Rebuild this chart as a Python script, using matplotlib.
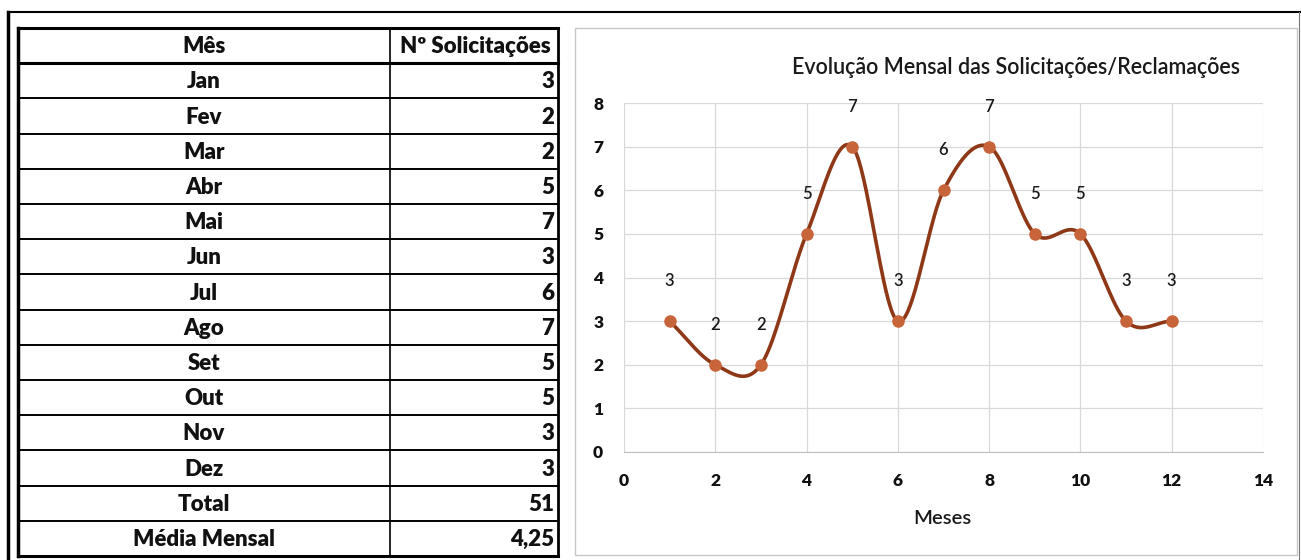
import matplotlib
matplotlib.use("Agg")
import matplotlib.pyplot as plt
import numpy as np
from matplotlib.patches import Rectangle

months = ["Jan", "Fev", "Mar", "Abr", "Mai", "Jun", "Jul", "Ago", "Set", "Out", "Nov", "Dez"]
month_num = [1, 2, 3, 4, 5, 6, 7, 8, 9, 10, 11, 12]
counts = [3, 2, 2, 5, 7, 3, 6, 7, 5, 5, 3, 3]
total_label = "Total"
total_value = "51"
mean_label = "Média Mensal"
mean_value = "4,25"
col_headers = ["Mês", "Nº Solicitações"]
title = "Evolução Mensal das Solicitações/Reclamações"
xlabel = "Meses"

FONT = ["Lato", "DejaVu Sans"]
plt.rcParams["font.family"] = FONT

W, H = 1301, 560
fig = plt.figure(figsize=(W / 100, H / 100), dpi=100)
fig.patch.set_facecolor("white")

# ---- background / table axes in pixel coordinates
bg = fig.add_axes([0, 0, 1, 1])
bg.set_xlim(0, W)
bg.set_ylim(H, 0)
bg.axis("off")

# outer frame
bg.plot([8, 1300], [12, 12], color="black", lw=1.5)
bg.plot([8, 8], [12, 560], color="black", lw=2.5)
bg.plot([1299, 1299], [12, 560], color="#777777", lw=0.8)

# table
tx0, tx1, tmid = 18, 558, 390
ty0, ty1 = 28, 556
rows = [col_headers] + [[m, str(c)] for m, c in zip(months, counts)] + \
       [[total_label, total_value], [mean_label, mean_value]]
nrow = len(rows)
rh = (ty1 - ty0) / nrow
for i in range(nrow + 1):
    y = ty0 + i * rh
    lw = 2.2 if i in (0, 1, nrow) else 1.4
    bg.plot([tx0, tx1], [y, y], color="black", lw=lw, solid_capstyle="projecting")
bg.plot([tx0, tx0], [ty0, ty1], color="black", lw=2.5)
bg.plot([tx1, tx1], [ty0, ty1], color="black", lw=2.0)
bg.plot([tmid, tmid], [ty0, ty1], color="black", lw=1.2)
for i, (a, b) in enumerate(rows):
    yc = ty0 + (i + 0.5) * rh + 1
    bg.text((tx0 + tmid) / 2, yc, a, ha="center", va="center", fontsize=16,
            fontweight="heavy", color="#111111")
    if i == 0:
        bg.text((tmid + tx1) / 2 + 1, yc, b, ha="center", va="center", fontsize=16,
                fontweight="heavy", color="#111111")
    else:
        bg.text(tx1 - 4, yc, b, ha="right", va="center", fontsize=16,
                fontweight="heavy", color="#111111")

# chart box
bg.add_patch(Rectangle((575, 28), 722, 527, fill=False, edgecolor="#c8c8c8", lw=1.0))
bg.text(1016, 68, title, ha="center", va="center", fontsize=15.5,
        fontweight="semibold", color="#1a1a1a")
bg.text(942, 519, xlabel, ha="center", va="center", fontsize=14.5,
        fontweight="semibold", color="#1a1a1a")

# ---- line chart
x0p, x1p = 624, 1263
y0p, y1p = 452, 103
ax = fig.add_axes([x0p / W, 1 - y0p / H, (x1p - x0p) / W, (y0p - y1p) / H])
ax.set_xlim(0, 14)
ax.set_ylim(0, 8)
ax.set_xticks(range(0, 15, 2))
ax.set_yticks(range(0, 9))
ax.grid(True, color="#d9d9d9", lw=0.9)
ax.set_axisbelow(True)
for s in ["top", "right", "left"]:
    ax.spines[s].set_visible(False)
ax.spines["bottom"].set_color("#bfbfbf")
ax.tick_params(length=0, labelsize=12.5)
ax.tick_params(axis="x", pad=15)
ax.tick_params(axis="y", pad=15)
for lab in ax.get_xticklabels() + ax.get_yticklabels():
    lab.set_fontweight("heavy")
    lab.set_color("#111111")

# Excel-style smoothed line (Catmull-Rom spline through the data points)
px = np.array(month_num, dtype=float)
py = np.array(counts, dtype=float)
n = len(px)
xs, ys = [], []
for i in range(n - 1):
    p0 = i - 1 if i > 0 else i
    p3 = i + 2 if i + 2 < n else i + 1
    mx0 = (px[i + 1] - px[p0]) / 2 if i > 0 else (px[i + 1] - px[i])
    my0 = (py[i + 1] - py[p0]) / 2 if i > 0 else (py[i + 1] - py[i])
    mx1 = (px[p3] - px[i]) / 2 if i + 2 < n else (px[i + 1] - px[i])
    my1 = (py[p3] - py[i]) / 2 if i + 2 < n else (py[i + 1] - py[i])
    t = np.linspace(0, 1, 40)
    h00 = 2 * t**3 - 3 * t**2 + 1
    h10 = t**3 - 2 * t**2 + t
    h01 = -2 * t**3 + 3 * t**2
    h11 = t**3 - t**2
    xs.append(h00 * px[i] + h10 * mx0 + h01 * px[i + 1] + h11 * mx1)
    ys.append(h00 * py[i] + h10 * my0 + h01 * py[i + 1] + h11 * my1)
xs = np.concatenate(xs)
ys = np.concatenate(ys)
ax.plot(xs, ys, color="#8e3818", lw=2.6, solid_capstyle="round", zorder=3)
ax.plot(px, py, "o", color="#c8643a", markersize=8, zorder=4)
for xv, yv in zip(month_num, counts):
    ax.annotate(str(yv), (xv, yv), xytext=(0, 23), textcoords="offset points",
                ha="center", va="bottom", fontsize=12, fontweight="semibold",
                color="#1a1a1a")

fig.savefig("out.png", dpi=100, facecolor="white")
